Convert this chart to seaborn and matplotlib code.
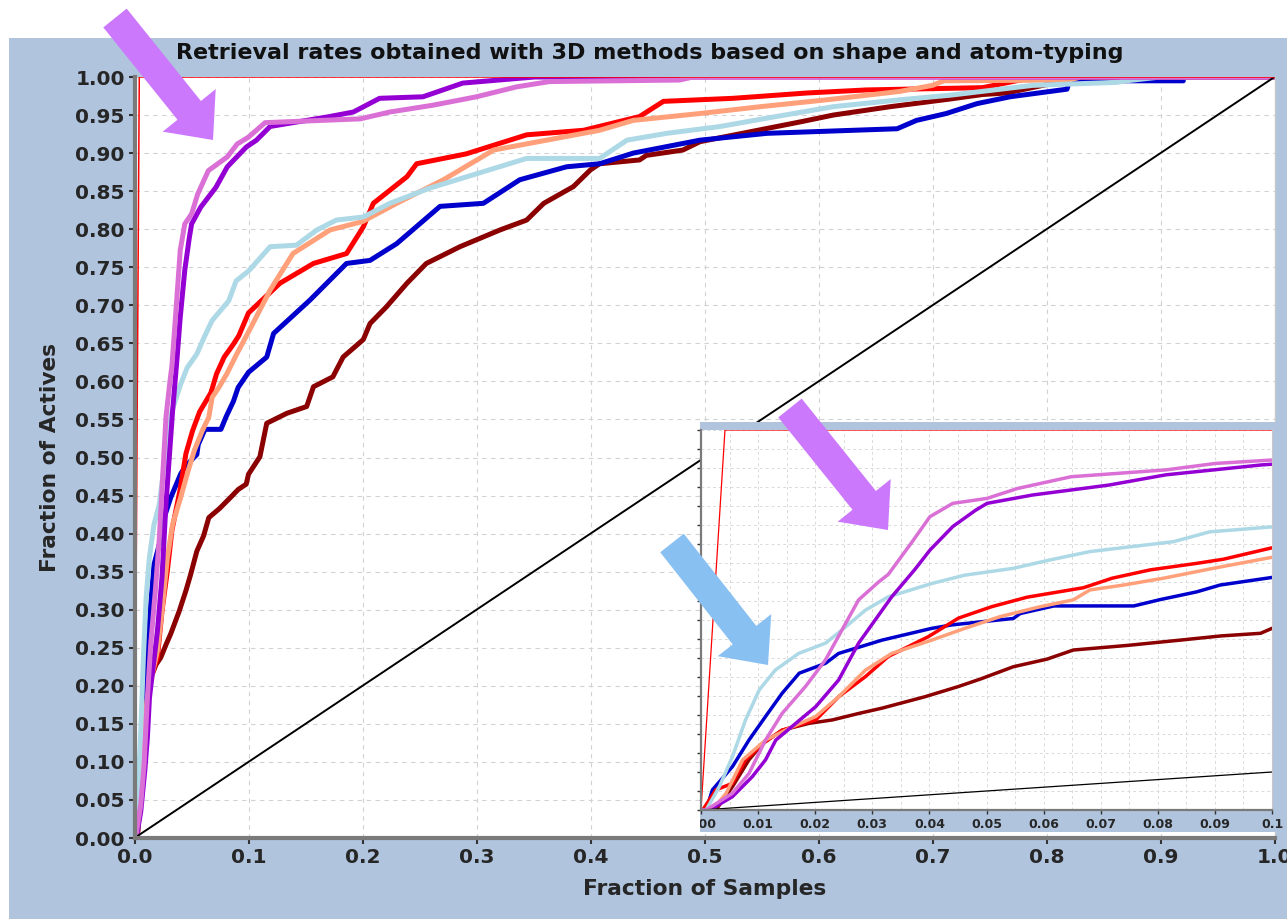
import numpy as np
import pandas as pd
import matplotlib
matplotlib.use("Agg")
import matplotlib.pyplot as plt
import seaborn as sns
from matplotlib.patches import Rectangle, FancyArrow
from matplotlib.transforms import IdentityTransform
from matplotlib.ticker import FixedLocator, FormatStrFormatter, MultipleLocator

# ---------------- DATA ----------------
title = "Retrieval rates obtained with 3D methods based on shape and atom-typing"
xlabel = "Fraction of Samples"
ylabel = "Fraction of Actives"

main_xticks = [0.0, 0.1, 0.2, 0.3, 0.4, 0.5, 0.6, 0.7, 0.8, 0.9, 1.0]
main_yticks = [round(0.05 * i, 2) for i in range(21)]
inset_xticks = [0.0, 0.01, 0.02, 0.03, 0.04, 0.05, 0.06, 0.07, 0.08, 0.09, 0.1]
inset_xtick_labels = ["0.00", "0.01", "0.02", "0.03", "0.04", "0.05",
                      "0.06", "0.07", "0.08", "0.09", "0.1"]

orchid_x = [0, 0.0009, 0.0055, 0.0084, 0.0113, 0.0142, 0.0183, 0.0218, 0.0247, 0.0276,
            0.0311, 0.0328, 0.0368, 0.0401, 0.0441, 0.0501, 0.0554, 0.0648, 0.0814, 0.0901,
            0.1, 0.1145, 0.198, 0.224, 0.262, 0.300, 0.335, 0.364, 0.478, 0.49, 1.0]
orchid_y = [0, 0, 0.044, 0.096, 0.184, 0.254, 0.325, 0.395, 0.474, 0.553,
            0.600, 0.620, 0.702, 0.772, 0.807, 0.820, 0.846, 0.877, 0.895, 0.912,
            0.921, 0.940, 0.945, 0.954, 0.963, 0.974, 0.987, 0.994, 0.996, 1.0, 1.0]

purple_x = [0, 0.0015, 0.0055, 0.009, 0.0113, 0.0131, 0.0166, 0.0201, 0.0241, 0.0276,
            0.0305, 0.0334, 0.0374, 0.0401, 0.0441, 0.0481, 0.0501, 0.0581, 0.0714, 0.0814,
            0.0981, 0.107, 0.119, 0.171, 0.192, 0.215, 0.253, 0.288, 0.335, 0.351, 1.0]
purple_y = [0, 0, 0.035, 0.088, 0.132, 0.184, 0.228, 0.272, 0.342, 0.439,
            0.500, 0.561, 0.632, 0.684, 0.746, 0.789, 0.807, 0.829, 0.855, 0.882,
            0.908, 0.917, 0.935, 0.948, 0.954, 0.972, 0.974, 0.992, 0.998, 1.0, 1.0]

lightblue_x = [0, 0.0009, 0.0032, 0.0055, 0.0078, 0.0102, 0.013, 0.0171, 0.0218, 0.0247,
               0.0288, 0.0328, 0.0404, 0.0462, 0.0547, 0.0611, 0.0681, 0.072, 0.0827, 0.0891,
               0.1, 0.119, 0.142, 0.160, 0.177, 0.2007, 0.224, 0.259, 0.344, 0.408,
               0.432, 0.467, 0.514, 0.555, 0.613, 0.671, 0.715, 0.788, 0.862, 0.870, 0.9, 1.0]
lightblue_y = [0, 0, 0.061, 0.14, 0.237, 0.316, 0.368, 0.412, 0.439, 0.474,
               0.526, 0.561, 0.596, 0.618, 0.636, 0.658, 0.68, 0.687, 0.706, 0.732,
               0.745, 0.777, 0.779, 0.799, 0.812, 0.816, 0.834, 0.854, 0.893, 0.893,
               0.917, 0.926, 0.935, 0.946, 0.961, 0.970, 0.976, 0.989, 0.993, 0.995, 1.0, 1.0]

red_x = [0, 0.0003, 0.0026, 0.0055, 0.0078, 0.0113, 0.0142, 0.0201, 0.0241, 0.0288,
         0.0328, 0.0398, 0.0451, 0.0509, 0.0571, 0.067, 0.072, 0.0787, 0.0868, 0.0915,
         0.1, 0.1276, 0.157, 0.186, 0.2007, 0.2095, 0.239, 0.2475, 0.291, 0.344,
         0.394, 0.443, 0.464, 0.525, 0.590, 0.642, 0.744, 0.79, 1.0]
red_y = [0, 0, 0.053, 0.07, 0.132, 0.18, 0.21, 0.237, 0.298, 0.351,
         0.404, 0.456, 0.505, 0.535, 0.560, 0.585, 0.61, 0.632, 0.649, 0.660,
         0.690, 0.729, 0.755, 0.768, 0.803, 0.834, 0.869, 0.886, 0.899, 0.924,
         0.930, 0.948, 0.968, 0.972, 0.979, 0.983, 0.986, 1.0, 1.0]

salmon_x = [0, 0.002, 0.0044, 0.0073, 0.0113, 0.016, 0.0201, 0.0241, 0.0288, 0.0334,
            0.0404, 0.0462, 0.0524, 0.0594, 0.0652, 0.0681, 0.074, 0.081, 0.0897, 0.1,
            0.119, 0.139, 0.1715, 0.2, 0.23, 0.271, 0.315, 0.408, 0.4375, 0.496,
            0.549, 0.607, 0.671, 0.70, 0.71, 0.82, 0.83, 1.0]
salmon_y = [0, 0, 0.044, 0.132, 0.184, 0.219, 0.246, 0.298, 0.368, 0.412,
            0.447, 0.478, 0.509, 0.535, 0.553, 0.579, 0.592, 0.610, 0.636, 0.665,
            0.720, 0.768, 0.799, 0.810, 0.834, 0.865, 0.904, 0.930, 0.943, 0.952,
            0.961, 0.970, 0.981, 0.989, 0.995, 0.996, 1.0, 1.0]

blue_x = [0, 0.0009, 0.002, 0.0055, 0.0084, 0.0113, 0.0142, 0.0172, 0.0218, 0.0241,
          0.0317, 0.0404, 0.0439, 0.0489, 0.0547, 0.0559, 0.0618, 0.0758, 0.0805, 0.0868,
          0.0909, 0.1, 0.116, 0.122, 0.154, 0.186, 0.2066, 0.23, 0.268, 0.306,
          0.338, 0.379, 0.408, 0.4375, 0.496, 0.555, 0.669, 0.686, 0.712, 0.739,
          0.768, 0.803, 0.818, 0.82, 0.92]
blue_y = [0, 0, 0.053, 0.114, 0.184, 0.246, 0.307, 0.36, 0.386, 0.412,
          0.447, 0.478, 0.487, 0.495, 0.504, 0.517, 0.537, 0.537, 0.554, 0.574,
          0.592, 0.612, 0.632, 0.663, 0.707, 0.755, 0.759, 0.781, 0.830, 0.834,
          0.865, 0.882, 0.886, 0.900, 0.917, 0.926, 0.932, 0.943, 0.952, 0.965,
          0.974, 0.981, 0.984, 0.995, 0.995]

darkred_x = [0, 0.0026, 0.0055, 0.0084, 0.0108, 0.0142, 0.0189, 0.023, 0.0276, 0.0317,
             0.0392, 0.0451, 0.049, 0.0547, 0.0606, 0.0652, 0.0746, 0.0839, 0.091, 0.098,
             0.1, 0.110, 0.116, 0.1335, 0.151, 0.157, 0.174, 0.183, 0.2007, 0.2066,
             0.221, 0.239, 0.256, 0.2855, 0.3206, 0.344, 0.359, 0.385, 0.40, 0.408,
             0.443, 0.449, 0.481, 0.496, 0.540, 0.584, 0.613, 0.663, 0.715, 0.744,
             0.765, 0.80, 0.85, 1.0]
darkred_y = [0, 0, 0.061, 0.132, 0.175, 0.21, 0.228, 0.237, 0.254, 0.268,
             0.298, 0.325, 0.345, 0.377, 0.397, 0.421, 0.433, 0.447, 0.458, 0.465,
             0.478, 0.501, 0.545, 0.558, 0.567, 0.593, 0.606, 0.632, 0.655, 0.676,
             0.698, 0.729, 0.755, 0.777, 0.799, 0.812, 0.834, 0.856, 0.878, 0.886,
             0.891, 0.897, 0.904, 0.915, 0.928, 0.941, 0.950, 0.961, 0.971, 0.977,
             0.979, 0.990, 1.0, 1.0]

random_x = [0.0, 1.0]
random_y = [0.0, 1.0]
ideal_x = [0.0, 0.0042, 1.0]
ideal_y = [0.0, 1.0, 1.0]

series = {
    "darkred": (darkred_x, darkred_y),
    "blue": (blue_x, blue_y),
    "red": (red_x, red_y),
    "salmon": (salmon_x, salmon_y),
    "lightblue": (lightblue_x, lightblue_y),
    "purple": (purple_x, purple_y),
    "orchid": (orchid_x, orchid_y),
}
palette = {
    "darkred": "#8B0000",
    "blue": "#0000CD",
    "red": "#FF0000",
    "salmon": "#FFA07A",
    "lightblue": "#ADD8E6",
    "purple": "#9400D3",
    "orchid": "#DA70D6",
}
order = list(series.keys())

# ---------------- FIGURE ----------------
W, H, DPI = 1287, 919, 100
sns.set_style("white")
plt.rcParams['font.family'] = ['DejaVu Sans']

BG = "#B0C4DE"
fig = plt.figure(figsize=(W / DPI, H / DPI), dpi=DPI, facecolor="white")


def px_rect(x0, y0, x1, y1):
    return [x0 / W, 1 - y1 / H, (x1 - x0) / W, (y1 - y0) / H]


bg = Rectangle((9 / W, 0), 1 - 9 / W, 1 - 38 / H, transform=fig.transFigure,
               facecolor=BG, edgecolor="none", zorder=-1)
fig.add_artist(bg)

df = pd.concat([pd.DataFrame({"x": xs, "y": ys, "method": name})
                for name, (xs, ys) in series.items()], ignore_index=True)

ax = fig.add_axes(px_rect(134.5, 77, 1274.5, 838))
ax.set_zorder(0)
ax.set_facecolor("white")

ib = px_rect(700, 422, 1287, 832)
inset_bg = Rectangle((ib[0], ib[1]), ib[2], ib[3], transform=fig.transFigure,
                     facecolor=BG, edgecolor="none", zorder=1)
fig.add_artist(inset_bg)

axin = fig.add_axes(px_rect(701, 430, 1272, 810))
axin.set_zorder(2)
axin.set_facecolor("white")

for a, lw, dlw, ilw in [(ax, 3.6, 1.4, 1.1), (axin, 2.5, 0.9, 0.9)]:
    sns.lineplot(data=df, x="x", y="y", hue="method", hue_order=order, palette=palette,
                 estimator=None, sort=False, linewidth=lw, legend=False, ax=a)
    sns.lineplot(x=random_x, y=random_y, color="black", linewidth=dlw,
                 estimator=None, sort=False, ax=a)
    sns.lineplot(x=ideal_x, y=ideal_y, color="#FF0000", linewidth=ilw,
                 estimator=None, sort=False, ax=a)
    a.set_xlabel("")
    a.set_ylabel("")

# main axes styling
ax.set_xlim(0, 1)
ax.set_ylim(0, 1)
ax.xaxis.set_major_locator(FixedLocator(main_xticks))
ax.yaxis.set_major_locator(FixedLocator(main_yticks))
ax.xaxis.set_major_formatter(FormatStrFormatter("%.1f"))
ax.yaxis.set_major_formatter(FormatStrFormatter("%.2f"))
ax.grid(True, color="#D2D2D2", linestyle=(0, (4, 4)), linewidth=0.8)
ax.tick_params(axis="both", which="major", direction="out", length=4, width=1.5,
               color="#333333", labelsize=14.5, pad=3, bottom=True, left=True)
for lab in ax.get_xticklabels() + ax.get_yticklabels():
    lab.set_fontweight("bold")
for s in ["left", "bottom"]:
    ax.spines[s].set_color("#7A7A7A")
    ax.spines[s].set_linewidth(3)
ax.spines["top"].set_visible(False)
ax.spines["right"].set_color("#C8C8C8")
ax.spines["right"].set_linewidth(1)
ax.set_xlabel(xlabel, fontsize=15.7, fontweight="bold", labelpad=9)
ax.set_ylabel(ylabel, fontsize=15.7, fontweight="bold", labelpad=11)

fig.text(650 / W, 1 - 53 / H, title, ha="center", va="center",
         fontsize=16, fontweight="bold", color="#111111")

# inset styling
axin.set_xlim(0, 0.1)
axin.set_ylim(0, 1)
axin.xaxis.set_major_locator(FixedLocator(inset_xticks))
axin.xaxis.set_minor_locator(MultipleLocator(0.005))
axin.yaxis.set_major_locator(FixedLocator(main_yticks))
axin.set_xticklabels(inset_xtick_labels)
axin.set_yticklabels([])
axin.grid(True, which="both", color="#DADADA", linestyle=(0, (3, 3)), linewidth=0.7)
axin.tick_params(axis="both", which="major", direction="out", length=3, width=1,
                 color="#333333", labelsize=9, pad=3, bottom=True, left=True)
axin.tick_params(axis="x", which="minor", length=0)
for lab in axin.get_xticklabels():
    lab.set_fontweight("bold")
axin.get_xticklabels()[0].set_clip_path(inset_bg)
for s in ["left", "bottom"]:
    axin.spines[s].set_color("#7A7A7A")
    axin.spines[s].set_linewidth(1.6)
axin.spines["top"].set_visible(False)
axin.spines["right"].set_color("#C8C8C8")
axin.spines["right"].set_linewidth(0.8)


# arrows (annotations)
def arrow(tail, tip, color, shaft=30, head_w=68, head_l=38):
    x0, y0 = tail[0], H - tail[1]
    x1, y1 = tip[0], H - tip[1]
    a = FancyArrow(x0, y0, x1 - x0, y1 - y0, width=shaft, head_width=head_w,
                   head_length=head_l, length_includes_head=True,
                   transform=IdentityTransform(), facecolor=color,
                   edgecolor="none", zorder=5)
    fig.add_artist(a)


arrow((115, 18), (213, 140), "#CB78FC")
arrow((790, 408), (888, 530), "#CB78FC")
arrow((672, 543), (768, 665), "#88C0F2")

fig.savefig("out.png", dpi=DPI, facecolor=fig.get_facecolor())
